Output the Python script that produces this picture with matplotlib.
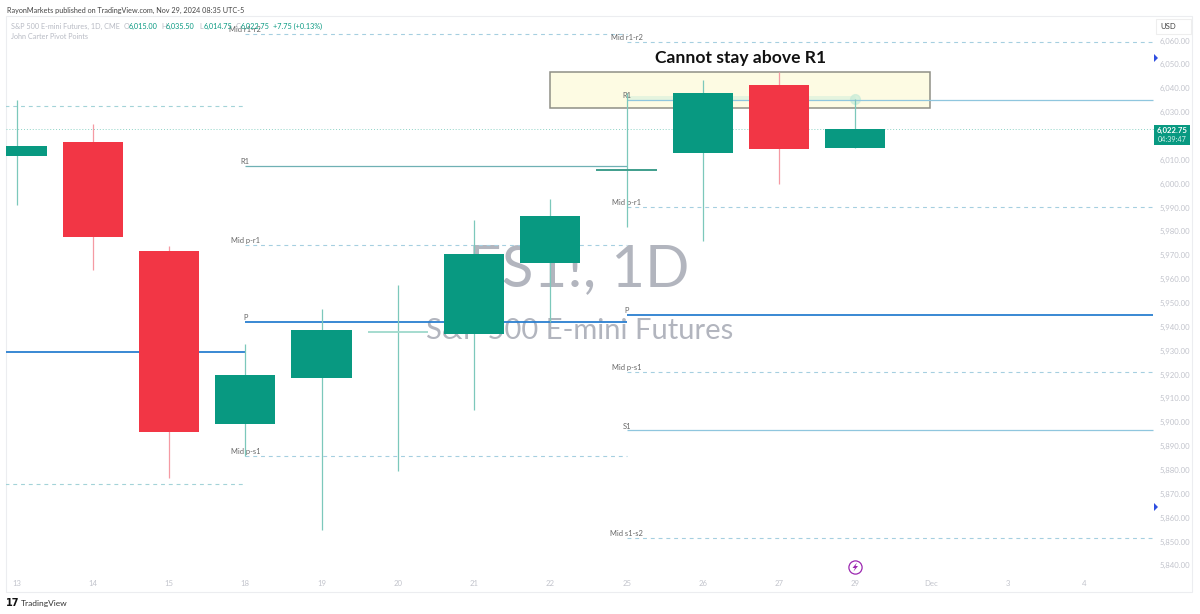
import matplotlib
matplotlib.use("Agg")
import matplotlib.pyplot as plt
from matplotlib.lines import Line2D
from matplotlib.patches import Rectangle, Polygon

plt.rcParams['font.family'] = ['Lato', 'DejaVu Sans']

W, H = 1200, 614
GREEN = '#089981'
RED = '#f23645'
BLUE = '#2a7fd0'
TXT = '#b2b5be'
AXTXT = '#c2c4cc'

# ---- data ----
day_labels = ['13', '14', '15', '18', '19', '20', '21', '22', '25', '26', '27', '29', 'Dec', '3', '4']
opens  = [6011.6, 6017.5, 5971.8, 5899.3, 5918.6, 5937.8, 5937.0, 5966.7, 6005.7, 6012.8, 6041.4, 6015.00]
highs  = [6035.0, 6025.0, 5974.0, 5932.8, 5947.5, 5957.5, 5984.8, 5993.6, 6038.0, 6043.5, 6046.8, 6035.50]
lows   = [5991.0, 5964.0, 5876.6, 5886.0, 5855.0, 5879.6, 5905.0, 5942.0, 5982.0, 5976.0, 6000.0, 6014.75]
closes = [6015.8, 5977.6, 5896.0, 5919.8, 5938.7, 5937.8, 5970.5, 5986.4, 6005.7, 6037.8, 6014.5, 6022.75]
price_ticks = [5840, 5850, 5860, 5870, 5880, 5890, 5900, 5910, 5920, 5930, 5940, 5950,
               5960, 5970, 5980, 5990, 6000, 6010, 6030, 6040, 6050, 6060]
last_price = 6022.75

# pivot periods: start day, end day
prev_span = (-0.15, 3.0)
mid_span = (3.0, 8.0)
last_span = (8.0, 14.9)
prev_solid = [5929.5]
prev_dashed = [6032.5, 5874.0]
mid_levels = {'Mid r1-r2': 6062.7, 'R1': 6007.4, 'Mid p-r1': 5974.3, 'P': 5942.0, 'Mid p-s1': 5886.0}
last_levels = {'Mid r1-r2': 6059.4, 'R1': 6035.0, 'Mid p-r1': 5990.2, 'P': 5945.0,
               'Mid p-s1': 5921.0, 'S1': 5896.6, 'Mid s1-s2': 5851.5}
zone_days = (6.995, 11.975)
zone_prices = (6031.7, 6046.8)

# ---- figure ----
fig = plt.figure(figsize=(W / 100, H / 100), dpi=100, facecolor='white')
L, R, T, B = 6, 1154, 16, 592
X0 = 16.6
ax = fig.add_axes([L / W, 1 - B / H, (R - L) / W, (B - T) / H])
px_per_day = 76.25
ax.set_xlim((L - X0) / px_per_day, (R - X0) / px_per_day)
ax.set_ylim(6060 - (B - 40.5) / 2.386, 6060 + (40.5 - T) / 2.386)
for s in ax.spines.values():
    s.set_visible(False)

ax.set_xticks(range(len(day_labels)), day_labels)
ax.tick_params(axis='x', length=0, pad=-3.6, labelsize=5.6, labelcolor=AXTXT)
for lab in ax.get_xticklabels():
    lab.set_verticalalignment('bottom')
ax.yaxis.tick_right()
ax.set_yticks(price_ticks, [f'{p:,.2f}' for p in price_ticks])
ax.tick_params(axis='y', length=0, pad=4, labelsize=5.6, labelcolor=AXTXT)

# watermark
fig.text(579 / W, 1 - 270 / H, 'ES1!, 1D', fontsize=42, color=TXT, ha='center', va='center', zorder=0.5)
fig.text(580 / W, 1 - 331 / H, 'S&P 500 E-mini Futures', fontsize=21, color=TXT, ha='center', va='center', zorder=0.5)
ax.set_zorder(1)
ax.patch.set_alpha(0)

# zone
ax.add_patch(Rectangle((zone_days[0], zone_prices[0]), zone_days[1] - zone_days[0],
                       zone_prices[1] - zone_prices[0], facecolor='#fdfbe3',
                       edgecolor='#8f8f86', linewidth=1.1, zorder=1))

# last price line
ax.axhline(last_price, color='#8ed3c6', linewidth=0.7, linestyle=(0, (1, 2)), zorder=1.5)

# pivots
dash = (0, (3.5, 3.5))
for v in prev_solid:
    ax.hlines(v, *prev_span, color=BLUE, linewidth=1.3, zorder=2)
for v in prev_dashed:
    ax.hlines(v, *prev_span, color='#a3d3d8', linewidth=0.8, linestyle=dash, zorder=2)


def draw_levels(levels, span):
    for name, v in levels.items():
        if name == 'P':
            ax.hlines(v, *span, color=BLUE, linewidth=1.3, zorder=2)
        elif name in ('R1', 'S1'):
            col = '#8fc6de' if span == last_span else '#6fb0b4'
            ax.hlines(v, *span, color=col, linewidth=0.9, zorder=2)
        else:
            ax.hlines(v, *span, color='#a5cfe0', linewidth=0.8, linestyle=dash, zorder=2)
        ax.annotate(name, (span[0], v), xytext=(0, 3), textcoords='offset points',
                    fontsize=5.4, color='#666666', ha='center', va='center', zorder=3)


draw_levels(mid_levels, mid_span)
draw_levels(last_levels, last_span)

# glow along R1 over the last days
ax.hlines(last_levels['R1'] + 0.7, 8.0, 11.0, color='#c8ecd8', linewidth=3.5, alpha=0.45, zorder=1.8)
ax.plot([11.0], [last_levels['R1'] + 0.3], 'o', ms=7, color='#c8ecd8', alpha=0.7, zorder=1.8)

# candles
bw = 0.79
for i, (o, h, l, c) in enumerate(zip(opens, highs, lows, closes)):
    up = c >= o
    col = GREEN if up else RED
    wick = '#7cc8bb' if up else '#f59aa3'
    ax.vlines(i, l, h, color=wick, linewidth=0.9, zorder=3)
    if o == c:
        dc = '#3f9e8c' if i == 8 else '#a5dccf'
        ax.hlines(o, i - bw / 2, i + bw / 2, color=dc, linewidth=1.4, zorder=3)
    else:
        ax.add_patch(Rectangle((i - bw / 2, min(o, c)), bw, abs(c - o), facecolor=col,
                               edgecolor='none', zorder=4))

ax.text(9.5, 6052.7, 'Cannot stay above R1', fontsize=12.6, fontweight='bold', color='#111111',
        ha='center', va='center', zorder=6)

# ---- chrome in pixel coordinates ----
def fx(x): return x / W
def fy(y): return 1 - y / H

fig.add_artist(Rectangle((fx(6), fy(592)), (1192 - 6) / W, (592 - 16) / H, transform=fig.transFigure,
                         facecolor='none', edgecolor='#ecedf0', linewidth=0.8, zorder=0.2))
fig.text(fx(7), fy(10), 'RayonMarkets published on TradingView.com, Nov 29, 2024 08:35 UTC-5',
         fontsize=5.2, color='#444444', va='center')
fig.text(fx(11), fy(26.5), 'S&P 500 E-mini Futures, 1D, CME', fontsize=5.2, color='#b8bbc4', va='center')
fig.text(fx(11), fy(36.5), 'John Carter Pivot Points', fontsize=5.2, color='#b8bbc4', va='center')
for x, pre, val in [(124, 'O', '6,015.00'), (161, 'H', '6,035.50'), (199, 'L', '6,014.75'), (236, 'C', '6,022.75')]:
    fig.text(fx(x), fy(26.5), pre, fontsize=5.2, color='#b8bbc4', va='center')
    fig.text(fx(x + 5), fy(26.5), val, fontsize=5.2, color=GREEN, va='center')
fig.text(fx(273), fy(26.5), '+7.75 (+0.13%)', fontsize=5.2, color=GREEN, va='center')

# USD box
fig.add_artist(Rectangle((fx(1156), fy(34)), 35 / W, 15 / H, transform=fig.transFigure,
                         facecolor='white', edgecolor='#eeeeee', linewidth=0.8))
fig.text(fx(1168), fy(26.5), 'USD', fontsize=5.6, color='#444444', ha='center', va='center')

# last price tag
fig.add_artist(Rectangle((fx(1154), fy(145)), 36 / W, 20 / H, transform=fig.transFigure,
                         facecolor=GREEN, edgecolor='none', zorder=5))
fig.text(fx(1172), fy(130), '6,022.75', fontsize=5.6, color='white', ha='center', va='center', zorder=6, fontweight='bold')
fig.text(fx(1172), fy(139.5), '04:39:47', fontsize=5.2, color='#d8f2ec', ha='center', va='center', zorder=6)

# blue markers
for yy in (58, 507):
    fig.add_artist(Polygon([(fx(1154), fy(yy - 4)), (fx(1158), fy(yy)), (fx(1154), fy(yy + 4))],
                           transform=fig.transFigure, facecolor='#2f4fe0', edgecolor='none', zorder=6))

# purple event marker
fig.add_artist(Line2D([fx(855)], [fy(567)], transform=fig.transFigure, marker='o', ms=9.5,
                      mfc='white', mec='#9c27b0', mew=0.9, zorder=6))
bolt = [(857, 562.5), (852.5, 568), (855, 568), (853.5, 571.5), (858, 566), (855.5, 566)]
fig.add_artist(Polygon([(fx(a), fy(b)) for a, b in bolt], transform=fig.transFigure,
                       facecolor='#9c27b0', edgecolor='none', zorder=7))

# logo
fig.text(fx(6), fy(603.5), '17', fontsize=7, fontweight='bold', color='#111111', va='center', family=['DejaVu Sans'])
fig.text(fx(21), fy(603.5), 'TradingView', fontsize=6, color='#333333', va='center')

fig.savefig('out.png', dpi=100)
